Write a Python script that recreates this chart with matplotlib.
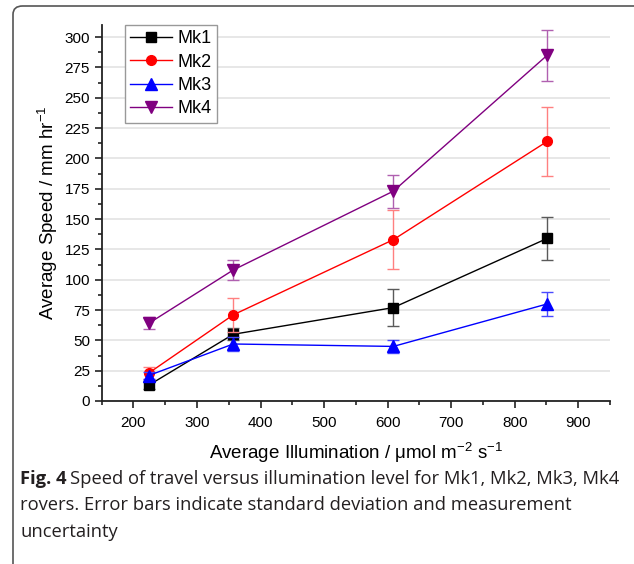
import matplotlib
matplotlib.use("Agg")
import matplotlib.pyplot as plt
from matplotlib.patches import FancyBboxPatch
from matplotlib.ticker import MultipleLocator

illum = [224, 357, 609, 851]

mk1 = [13, 55, 77, 134]
mk1_err = [3, 5, 15.5, 17.7]
mk2 = [23, 71, 133, 214]
mk2_err = [5, 14, 24.5, 28.5]
mk3 = [21, 47, 45, 80]
mk3_err = [3, 6, 5.5, 10]
mk4 = [64, 108, 173, 285]
mk4_err = [5, 8, 13.5, 21]

labels = ["Mk1", "Mk2", "Mk3", "Mk4"]
series = [mk1, mk2, mk3, mk4]
errors = [mk1_err, mk2_err, mk3_err, mk4_err]
colours = ["#000000", "#ff0000", "#0000ff", "#800080"]
err_colours = ["#5a5a5a", "#ff8080", "#4a4aff", "#b060b0"]
markers = ["s", "o", "^", "v"]

plt.rcParams["font.family"] = ["Liberation Sans", "DejaVu Sans"]

fig = plt.figure(figsize=(6.34, 5.64), dpi=100)
W, H = 634, 564

# outer frame of the figure panel (runs off right and bottom edges)
frame = FancyBboxPatch((13 / W, -0.2), 1.2, 1 - 6 / H + 0.2,
                       boxstyle="round,pad=0,rounding_size=0.015",
                       transform=fig.transFigure, fill=False,
                       edgecolor="#555555", linewidth=1.2)
fig.patches.append(frame)

ax = fig.add_axes([101.7 / W, 1 - 401 / H, (610 - 101.7) / W, (401 - 25) / H])

for i, (ys, es) in enumerate(zip(series, errors)):
    ax.errorbar(illum, ys, yerr=es, fmt="none", ecolor=err_colours[i],
                elinewidth=1, capsize=4, capthick=1, zorder=2 + i)
    ax.plot(illum, ys, color=colours[i], lw=1, marker=markers[i],
            markersize=8 if markers[i] in "^v" else 7,
            markerfacecolor=colours[i], markeredgecolor=colours[i],
            label=labels[i], zorder=3 + i)

ax.set_xlim(150, 950)
ax.set_ylim(0, 310)
ax.xaxis.set_major_locator(MultipleLocator(100))
ax.xaxis.set_minor_locator(MultipleLocator(50))
ax.yaxis.set_major_locator(MultipleLocator(25))
ax.yaxis.set_minor_locator(MultipleLocator(12.5))
ax.set_xticks(range(200, 1000, 100))

ax.grid(axis="y", color="#e3e3e3", lw=1.2)
ax.set_axisbelow(True)
for s in ["top", "right"]:
    ax.spines[s].set_visible(False)
for s in ["left", "bottom"]:
    ax.spines[s].set_linewidth(1.3)
    ax.spines[s].set_color("#222222")

ax.tick_params(which="major", length=5, width=1.2, labelsize=11, color="#222222")
ax.tick_params(which="minor", length=3, width=1.2, color="#222222")
ax.tick_params(axis="x", pad=6)

ax.set_xlabel("Average Illumination / \u03bcmol m$^{\\mathregular{-2}}$ s$^{\\mathregular{-1}}$",
              fontsize=13.5, labelpad=7)
ax.set_ylabel("Average Speed / mm hr$^{\\mathregular{-1}}$", fontsize=13.5, labelpad=3)

leg = ax.legend(loc="upper left", bbox_to_anchor=(0.045, 1.0), borderaxespad=0,
                fontsize=13, fancybox=False, edgecolor="#999999", framealpha=1,
                handlelength=2.35, handletextpad=0.3, labelspacing=0.35,
                borderpad=0.3)
leg.get_frame().set_linewidth(1)

# caption
cap_font = "Open Sans"
cap_size = 13.2
bold = fig.text(20 / W, 1 - 484 / H, "Fig. 4", fontsize=cap_size, fontweight="bold",
                family=cap_font, va="baseline", ha="left", color="#231f20")
fig.canvas.draw()
bb = bold.get_window_extent(fig.canvas.get_renderer())
fig.text((bb.x1 + 4) / W, 1 - 484 / H,
         "Speed of travel versus illumination level for Mk1, Mk2, Mk3, Mk4",
         fontsize=cap_size, family=cap_font, va="baseline", ha="left", color="#231f20")
fig.text(20 / W, 1 - 510.5 / H,
         "rovers. Error bars indicate standard deviation and measurement",
         fontsize=cap_size, family=cap_font, va="baseline", ha="left", color="#231f20")
fig.text(20 / W, 1 - 537 / H, "uncertainty",
         fontsize=cap_size, family=cap_font, va="baseline", ha="left", color="#231f20")

fig.savefig("out.png", dpi=100)
